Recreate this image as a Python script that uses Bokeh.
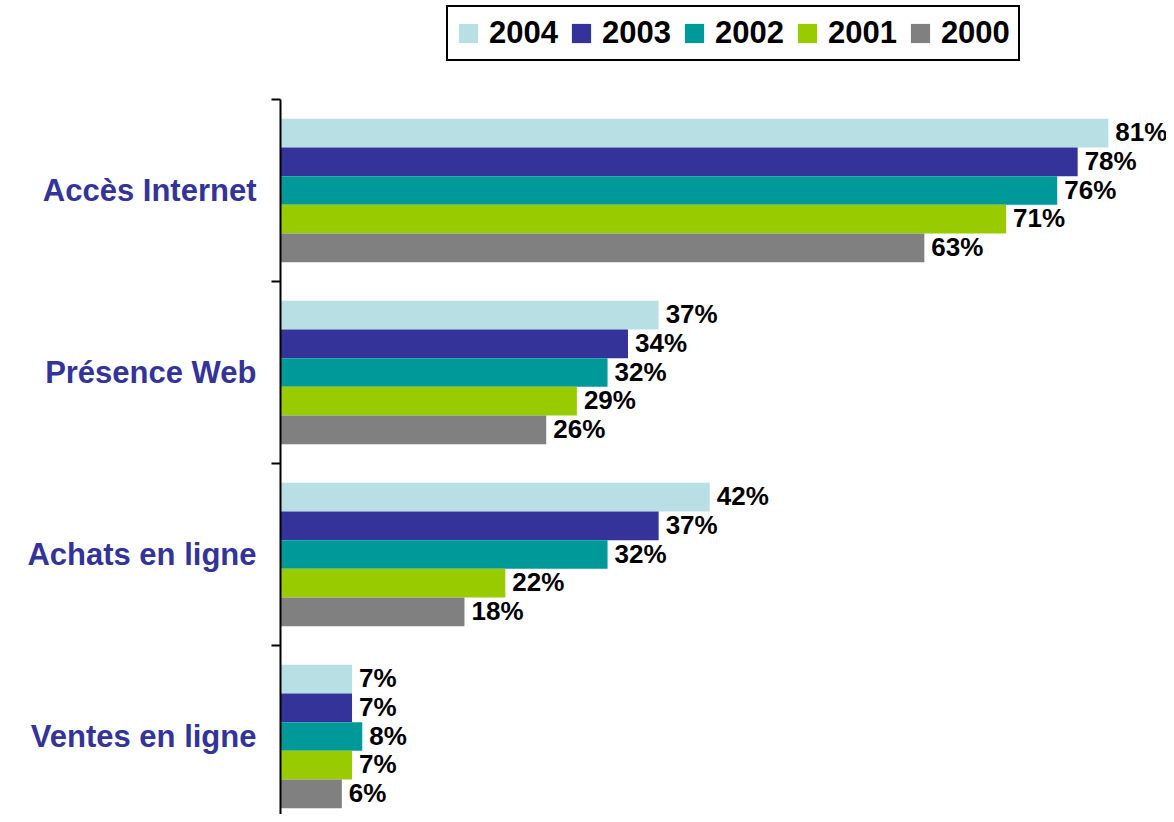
from bokeh.plotting import figure
from bokeh.models import ColumnDataSource, Legend, LegendItem, FixedTicker, Range1d
from bokeh.core.properties import value
from bokeh.embed import file_html
from bokeh.resources import INLINE

categories = ["Accès Internet", "Présence Web", "Achats en ligne", "Ventes en ligne"]
years = ["2004", "2003", "2002", "2001", "2000"]
colors = ["#B8E0E4", "#333399", "#009999", "#99CC00", "#808080"]
v2004 = [81, 37, 42, 7]
v2003 = [78, 34, 37, 7]
v2002 = [76, 32, 32, 8]
v2001 = [71, 29, 22, 7]
v2000 = [63, 26, 18, 6]
series = [v2004, v2003, v2002, v2001, v2000]

n = len(categories)
centers = [n - 0.5 - i for i in range(n)]  # top to bottom
bar_h = 0.1577
W, H = 1166, 814
left_px, top_px, pitch, px_per = 280, 99, 182.0, 10.22

p = figure(width=W, height=H, output_backend="svg", toolbar_location=None,
           x_range=Range1d(0, (W - left_px) / px_per),
           y_range=Range1d(n - (H - top_px) / pitch, n + top_px / pitch),
           min_border_left=left_px, min_border_top=0, min_border_right=0, min_border_bottom=0)
p.outline_line_color = None
p.xgrid.visible = False
p.ygrid.visible = False
p.xaxis.visible = False
p.background_fill_color = "white"
p.border_fill_color = "white"

items = []
for k, (yr, col, vals) in enumerate(zip(years, colors, series)):
    off = (2 - k) * bar_h
    ys = [c + off for c in centers]
    src = ColumnDataSource(dict(y=ys, v=vals, lab=[f"{x}%" for x in vals]))
    r = p.hbar(y="y", right="v", left=0, height=bar_h, source=src,
               fill_color=col, line_color=None)
    p.text(x="v", y="y", text="lab", source=src, x_offset=7, y_offset=-1,
           text_align="left", text_baseline="middle",
           text_font=value("Liberation Sans"), text_font_style="bold",
           text_font_size="26px", text_color="black")
    items.append(LegendItem(label=yr, renderers=[r]))

ax = p.yaxis[0]
ax.bounds = (0, n)
ax.ticker = FixedTicker(ticks=centers, minor_ticks=list(range(n + 1)))
ax.major_label_overrides = {c: categories[i] for i, c in enumerate(centers)}
ax.major_tick_line_color = None
ax.major_tick_out = 0
ax.major_tick_in = 0
ax.minor_tick_out = 9
ax.minor_tick_in = 0
ax.minor_tick_line_color = "black"
ax.minor_tick_line_width = 2
ax.axis_line_color = "black"
ax.axis_line_width = 2
ax.major_label_standoff = 15
ax.major_label_text_font = "Liberation Sans"
ax.major_label_text_font_style = "bold"
ax.major_label_text_font_size = "31px"
ax.major_label_text_color = "#333399"

legend = Legend(items=items, orientation="horizontal", location=(166, H - 61),
                glyph_width=24, glyph_height=24, label_standoff=9, spacing=11,
                padding=8, margin=0,
                label_text_font="Liberation Sans", label_text_font_style="bold",
                label_text_font_size="31px", label_text_color="black",
                border_line_color="black", border_line_width=2, border_line_alpha=1,
                background_fill_color="white", background_fill_alpha=1)
p.add_layout(legend, "center")

open("out.html", "w").write(file_html(p, INLINE))
